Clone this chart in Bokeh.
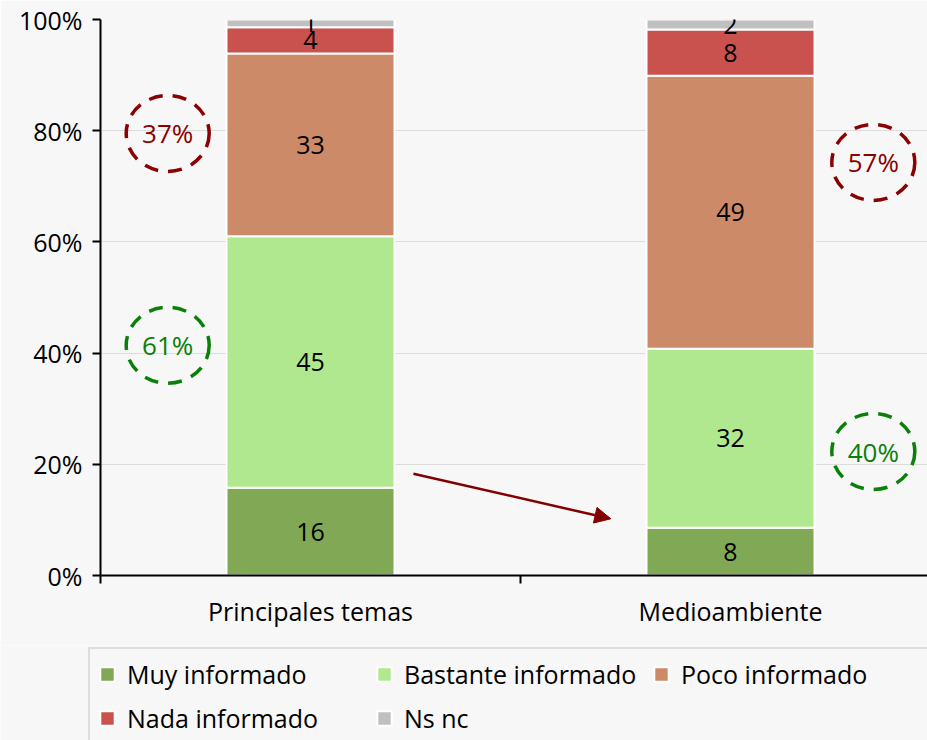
from bokeh.plotting import figure
from bokeh.layouts import column
from bokeh.models import (FixedTicker, Legend, LegendItem, ColumnDataSource,
                          Arrow, NormalHead)
from bokeh.core.properties import value
from bokeh.embed import file_html
from bokeh.resources import INLINE

# ---------------- data ----------------
categories = ["Principales temas", "Medioambiente"]
cat_x = [0.5, 1.5]
series = ["Muy informado", "Bastante informado", "Poco informado",
          "Nada informado", "Ns nc"]
colors = ["#80a855", "#b0e88f", "#cc8a68", "#c9524f", "#c0c0c0"]

muy = [15.8, 8.6]
bastante = [45.2, 32.2]
poco = [32.9, 49.1]
nada = [4.7, 8.3]
nsnc = [1.4, 1.8]

label_muy = ["16", "8"]
label_bastante = ["45", "32"]
label_poco = ["33", "49"]
label_nada = ["4", "8"]
label_nsnc = ["1", "2"]

y_ticks = [0, 20, 40, 60, 80, 100]
y_tick_labels = ["0%", "20%", "40%", "60%", "80%", "100%"]

# circled summary annotations
circle_x = [0.16, 0.16, 1.84, 1.84]
circle_y = [79.5, 41.4, 74.3, 22.3]
circle_text = ["37%", "61%", "57%", "40%"]
circle_color = ["#8b0000", "#0a800a", "#8b0000", "#0a800a"]

arrow_start = (0.745, 18.3)
arrow_end = (1.215, 10.2)

FONT = "Open Sans"
FS = "25px"
BG = "#f7f7f7"

# ---------------- main figure ----------------
p = figure(width=927, height=645, x_range=(0, 1.969), y_range=(0, 100),
           output_backend="svg", toolbar_location=None,
           min_border_left=100, min_border_right=0, min_border_top=19,
           min_border_bottom=70)
p.background_fill_color = BG
p.border_fill_color = BG
p.outline_line_color = None

keys = ["muy", "bastante", "poco", "nada", "nsnc"]
src = ColumnDataSource(dict(x=cat_x, muy=muy, bastante=bastante, poco=poco,
                            nada=nada, nsnc=nsnc))
p.vbar_stack(keys, x="x", width=0.4, color=colors, source=src,
             line_color="white", line_width=2)

# segment labels
values = [muy, bastante, poco, nada, nsnc]
labels = [label_muy, label_bastante, label_poco, label_nada, label_nsnc]
lx, ly, lt = [], [], []
for j in range(len(cat_x)):
    base = 0.0
    for s in range(len(values)):
        v = values[s][j]
        lx.append(cat_x[j])
        ly.append(base + v / 2)
        lt.append(labels[s][j])
        base += v
p.text(x=lx, y=ly, text=lt, text_align="center", text_baseline="middle",
       text_font=value(FONT), text_font_size=FS, text_color="black")

# circles
p.ellipse(x=circle_x, y=circle_y, width=83, height=76, width_units="screen",
          height_units="screen", fill_color=None, line_color=circle_color,
          line_width=3.5, line_dash="14 10")
p.text(x=circle_x, y=circle_y, text=circle_text, text_align="center",
       text_baseline="middle", text_font=value(FONT), text_font_size="26px",
       text_color=circle_color)

# arrow
p.add_layout(Arrow(x_start=arrow_start[0], y_start=arrow_start[1],
                   x_end=arrow_end[0], y_end=arrow_end[1],
                   line_color="#800000", line_width=2.5,
                   end=NormalHead(size=16, fill_color="#800000",
                                  line_color="#800000")))

# axes
p.yaxis.ticker = FixedTicker(ticks=y_ticks)
p.yaxis.major_label_overrides = {t: l for t, l in zip(y_ticks, y_tick_labels)}
p.yaxis.major_tick_out = 8
p.yaxis.major_tick_in = 0
p.yaxis.minor_tick_line_color = None
p.yaxis.axis_line_width = 2
p.yaxis.major_tick_line_width = 2
p.yaxis.major_label_standoff = 10
p.yaxis.major_label_text_font = FONT
p.yaxis.major_label_text_font_size = FS
p.yaxis.major_label_text_color = "black"

p.xaxis.ticker = FixedTicker(ticks=cat_x, minor_ticks=[0, 1, 2])
p.xaxis.major_label_overrides = {x: c for x, c in zip(cat_x, categories)}
p.xaxis.major_tick_line_color = None
p.xaxis.major_tick_out = 8
p.xaxis.major_tick_in = 0
p.xaxis.minor_tick_out = 8
p.xaxis.minor_tick_in = 0
p.xaxis.minor_tick_line_width = 2
p.xaxis.minor_tick_line_color = "black"
p.xaxis.axis_line_width = 2
p.xaxis.major_label_standoff = 10
p.xaxis.major_label_text_font = FONT
p.xaxis.major_label_text_font_size = FS
p.xaxis.major_label_text_color = "black"

p.xgrid.grid_line_color = None
p.ygrid.ticker = FixedTicker(ticks=y_ticks)
p.ygrid.grid_line_color = "#dcdcdc"
p.ygrid.grid_line_width = 1

# ---------------- legend strip ----------------
q = figure(width=927, height=95, x_range=(0, 1), y_range=(0, 1),
           output_backend="svg", toolbar_location=None,
           x_axis_location=None, y_axis_location=None,
           min_border_left=0, min_border_right=0, min_border_top=0,
           min_border_bottom=0)
if "frame_align" in q.properties():
    q.frame_align = False
q.background_fill_color = BG
q.border_fill_color = BG
q.outline_line_color = None
q.grid.visible = False

# legend-only renderers (placed outside the visible range)
leg_src = ColumnDataSource(dict(x=[-5.0], top=[0.0]))
leg_renderers = [q.vbar(x="x", top="top", width=0.1, source=leg_src,
                        fill_color=c, line_color="white", line_width=2)
                 for c in colors]
items = [LegendItem(label=s, renderers=[r]) for s, r in zip(series, leg_renderers)]
legend = Legend(items=items, location=(88, -5), orientation="horizontal",
                ncols=3, margin=0, padding=8, spacing=10, label_width=238,
                glyph_width=18, glyph_height=18, label_standoff=11,
                label_text_font=FONT, label_text_font_size=FS,
                label_text_color="black",
                border_line_color="#c4c4c4", border_line_width=2,
                background_fill_color=BG, background_fill_alpha=1)
q.add_layout(legend, "center")

layout = column(p, q, spacing=0)
open("out.html", "w").write(file_html(layout, INLINE))
